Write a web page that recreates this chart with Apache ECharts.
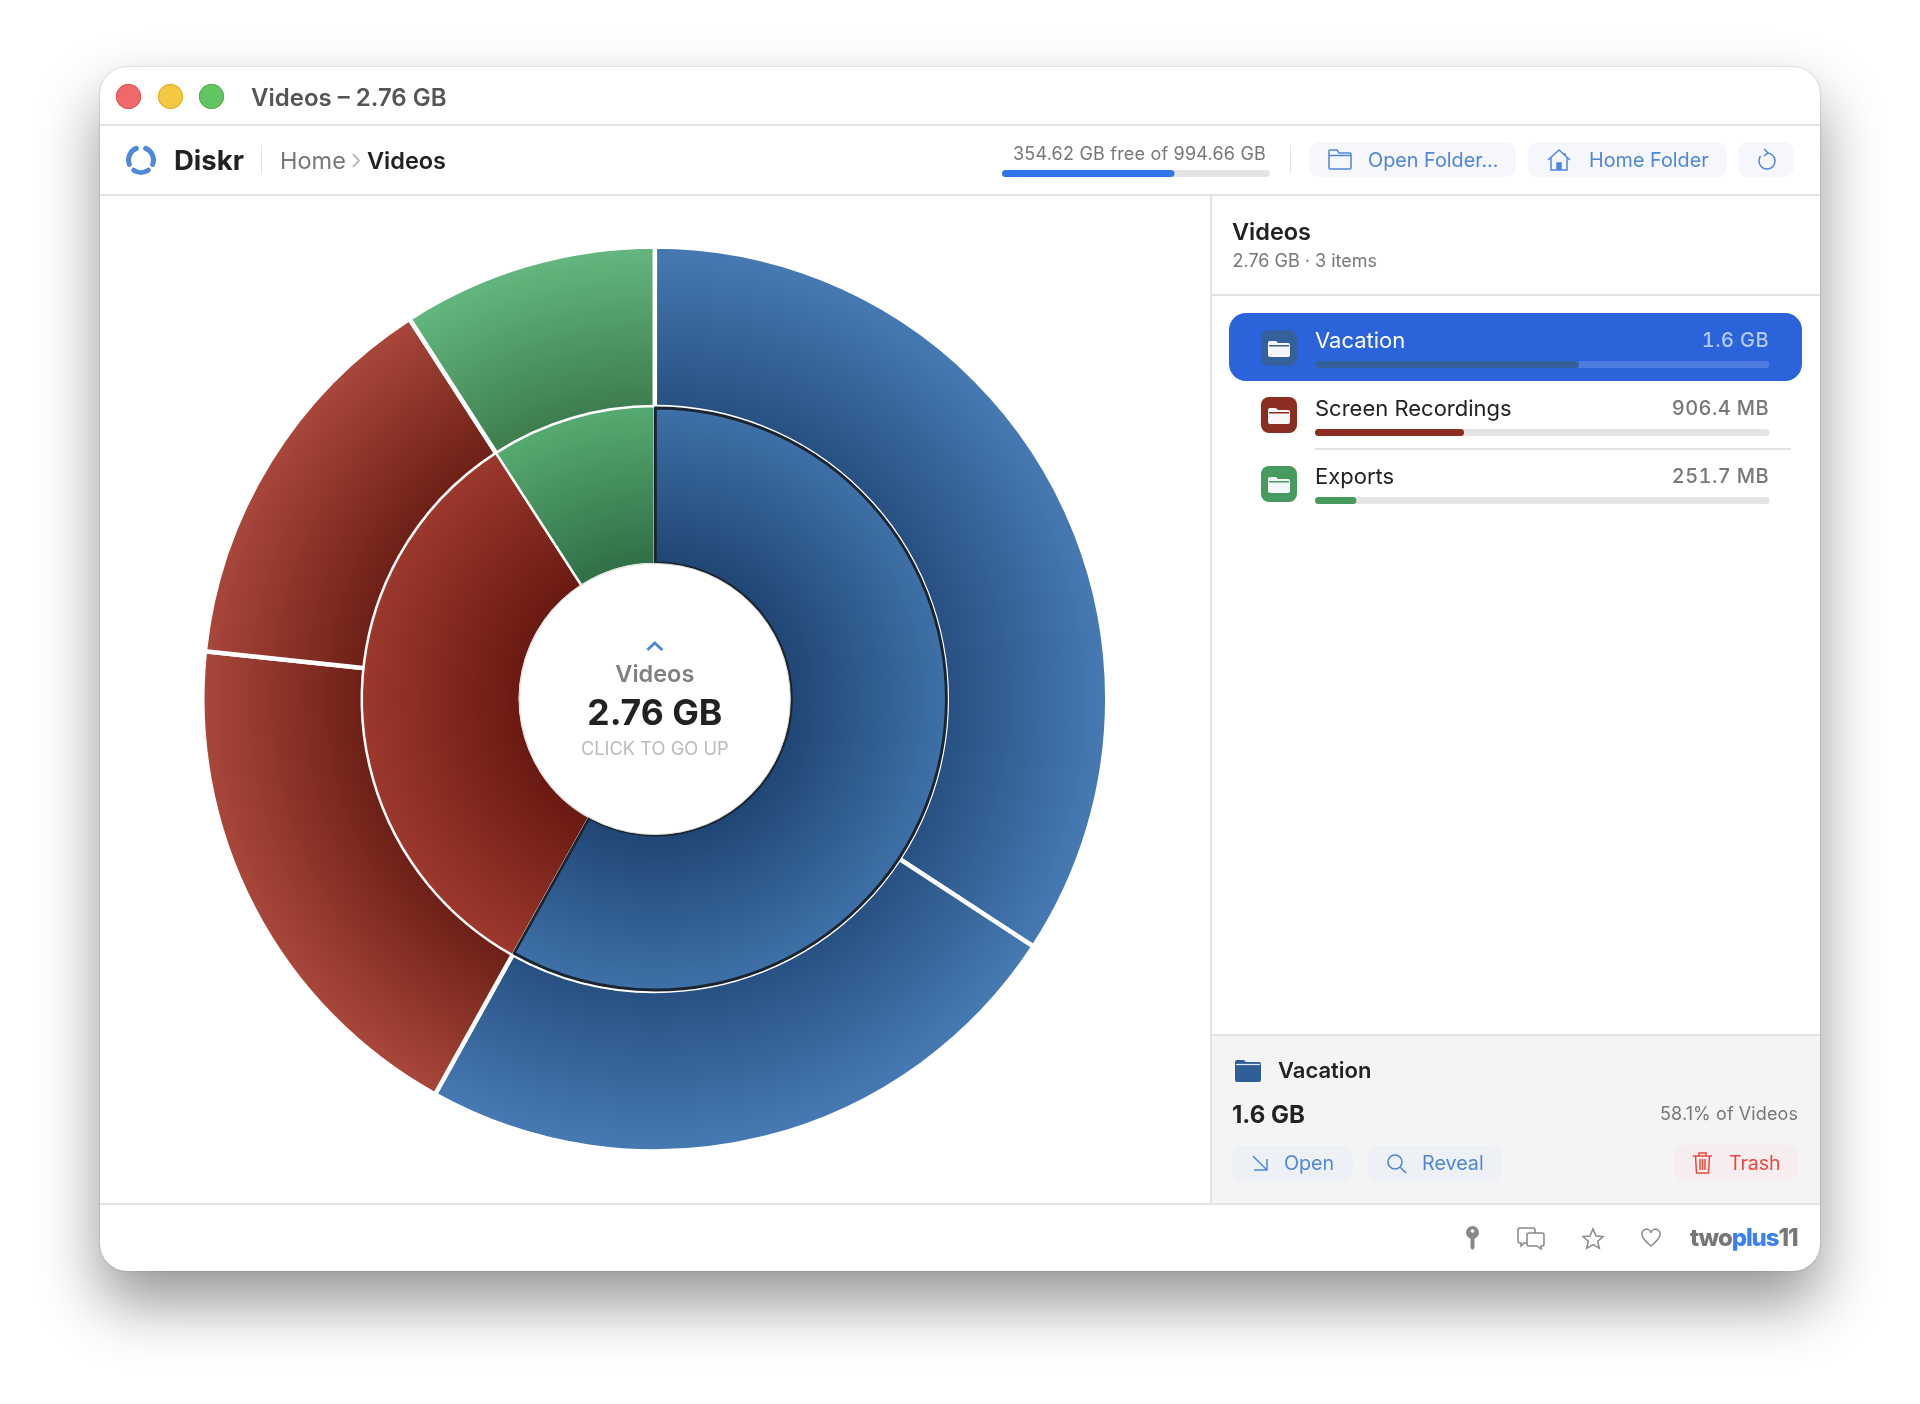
<!DOCTYPE html>
<html lang="en">

<head>
    <meta charset="UTF-8">
    <title>Diskr - Videos</title>
    <script src="https://cdn.jsdelivr.net/npm/echarts@6/dist/echarts.min.js"></script>
    <style>
        html, body { margin: 0; padding: 0; background: #fff; }
        body { width: 1920px; height: 1404px; position: relative; overflow: hidden; font-family: Inter, sans-serif; }
        #win { position: absolute; left: 100px; top: 67px; width: 1720px; height: 1204px; background: #fff; border-radius: 27px;
            box-shadow: 0 32px 62px rgba(0,0,0,.42), 0 0 2px rgba(0,0,0,.28); }
        #main { position: absolute; left: 0; top: 0; width: 1920px; height: 1404px; }
        .t { position: absolute; white-space: nowrap; line-height: 1; z-index: 5; }
        .r { position: absolute; z-index: 0; }
        svg { position: absolute; overflow: visible; z-index: 5; }
        .btn { position: absolute; border-radius: 10px; z-index: 0; }
        .line { position: absolute; background: #e3e3e3; z-index: 1; }
    </style>
</head>

<body>
    <div id="win"></div>

    <!-- title bar -->
    <div class="r" style="left:116px;top:84px;width:25px;height:25px;border-radius:50%;background:#f0696a;box-shadow:inset 0 0 0 1px #e0504f"></div>
    <div class="r" style="left:157.5px;top:84px;width:25px;height:25px;border-radius:50%;background:#f5c842;box-shadow:inset 0 0 0 1px #e0ad2a"></div>
    <div class="r" style="left:199px;top:84px;width:25px;height:25px;border-radius:50%;background:#62c462;box-shadow:inset 0 0 0 1px #4cae4c"></div>
    <div class="t" style="left:251px;top:86px;font-size:24px;font-weight:600;color:#555">Videos – 2.76 GB</div>
    <div class="line" style="left:100px;top:124px;width:1720px;height:2px"></div>

    <!-- toolbar -->
    <svg style="left:125px;top:144px" width="32" height="32" fill="none" stroke="#4f8ad8" stroke-width="5" stroke-linecap="round">
        <path d="M20.700 4.400A12.500 12.500 0 0 1 27.700 20.300"/><path d="M23.200 26.200A12.500 12.500 0 0 1 8.800 26.200"/><path d="M4.300 20.300A12.500 12.500 0 0 1 11.300 4.400"/>
    </svg>
    <div class="t" style="left:174px;top:147px;font-size:27.500px;font-weight:700;color:#222">Diskr</div>
    <div class="line" style="left:261px;top:145px;width:1px;height:29px"></div>
    <div class="t" style="left:280px;top:149px;font-size:23.500px;color:#777">Home</div>
    <svg style="left:352px;top:153px" width="9" height="15" fill="none" stroke="#aaa" stroke-width="1.5"><path d="M1 1l6 6.500-6 6.500"/></svg>
    <div class="t" style="left:367px;top:149px;font-size:23.500px;font-weight:600;color:#222">Videos</div>
    <div class="t" style="left:1013px;top:145px;font-size:18px;letter-spacing:.2px;color:#777">354.62 GB free of 994.66 GB</div>
    <div class="line" style="left:1290px;top:145px;width:1px;height:28px"></div>

    <div class="btn" style="left:1309px;top:142px;width:207px;height:35px;background:#f5f7fc"></div>
    <svg style="left:1328px;top:149px" width="24" height="21" fill="none" stroke="#4f86d6" stroke-width="1.5"><path d="M2 1h7l2 3h11a1 1 0 0 1 1 1v14a1 1 0 0 1-1 1H2a1 1 0 0 1-1-1V2a1 1 0 0 1 1-1z"/><path d="M1 6.500h22"/></svg>
    <div class="t" style="left:1368px;top:150.500px;font-size:19.800px;color:#4f86d6">Open Folder...</div>
    <div class="btn" style="left:1528px;top:142px;width:199px;height:35px;background:#f5f7fc"></div>
    <svg style="left:1547px;top:148px" width="24" height="24" fill="none" stroke="#4f86d6" stroke-width="1.5"><path d="M1 12L12 2l11 10"/><path d="M4 10v12h16V10"/><path d="M10 22v-7h4v7" fill="#4f86d6"/><path d="M18 5v3"/></svg>
    <div class="t" style="left:1589px;top:150.500px;font-size:19.800px;color:#4f86d6">Home Folder</div>
    <div class="btn" style="left:1738px;top:142px;width:56px;height:35px;background:#f5f7fc"></div>
    <svg style="left:1757px;top:149px" width="18" height="22" fill="none" stroke="#4f86d6" stroke-width="1.5"><path d="M10 4a8 8 0 1 1-8 8c0-2 .5-3.500 1.500-5"/><path d="M7 0l4 4-4 3"/></svg>
    <div class="line" style="left:100px;top:194px;width:1720px;height:2px"></div>

    <!-- right panel -->
    <div class="line" style="left:1210px;top:194px;width:2px;height:1010px"></div>
    <div class="t" style="left:1232px;top:220px;font-size:23.500px;font-weight:600;color:#222">Videos</div>
    <div class="t" style="left:1232.500px;top:252px;font-size:18px;color:#777">2.76 GB · 3 items</div>
    <div class="line" style="left:1212px;top:294px;width:608px;height:2px"></div>
    <div class="r" style="left:1229px;top:313px;width:573px;height:68px;border-radius:17px;background:#2a63da"></div>
    <div id="rows"></div>
    <div class="line" style="left:1315px;top:448px;width:476px;height:2px"></div>

    <!-- detail panel -->
    <div class="r" style="left:1212px;top:1034px;width:608px;height:169px;background:#f4f4f4"></div>
    <div class="line" style="left:1212px;top:1034px;width:608px;height:2px"></div>
    <svg style="left:1235px;top:1060px" width="26" height="22"><path d="M2 0h7l2 2h13a2 2 0 0 1 2 2v16a2 2 0 0 1-2 2H2a2 2 0 0 1-2-2V2a2 2 0 0 1 2-2z" fill="#305f97"/><path d="M1 4.500h24" stroke="#dfe6ef" stroke-width="1.2"/></svg>
    <div class="t" style="left:1278px;top:1059px;font-size:22px;font-weight:600;color:#222">Vacation</div>
    <div class="t" style="left:1232px;top:1103px;font-size:24px;font-weight:700;color:#222">1.6 GB</div>
    <div class="t" style="right:122px;top:1105px;font-size:18px;letter-spacing:.1px;color:#777">58.1% of Videos</div>

    <div class="btn" style="left:1232px;top:1146px;width:121px;height:35px;background:#edf1f5"></div>
    <svg style="left:1252px;top:1155px" width="17" height="17" fill="none" stroke="#4f86d6" stroke-width="1.5"><path d="M1 1l14 14"/><path d="M15 4v11H2"/></svg>
    <div class="t" style="left:1284px;top:1154px;font-size:19.700px;color:#4f86d6">Open</div>
    <div class="btn" style="left:1368px;top:1146px;width:134px;height:35px;background:#edf1f5"></div>
    <svg style="left:1387px;top:1154px" width="20" height="20" fill="none" stroke="#4f86d6" stroke-width="1.6"><circle cx="8" cy="8" r="7"/><path d="M13 13l6 6"/></svg>
    <div class="t" style="left:1422px;top:1154px;font-size:19.700px;color:#4f86d6">Reveal</div>
    <div class="btn" style="left:1674px;top:1145px;width:124px;height:36px;background:#f6eeee"></div>
    <svg style="left:1693px;top:1152px" width="19" height="22" fill="none" stroke="#e8483f" stroke-width="1.5"><path d="M0 4h19M6 4V1h7v3M2.500 4l1 17h12l1-17M7 7v11M9.500 7v11M12 7v11"/></svg>
    <div class="t" style="left:1729px;top:1154px;font-size:19.500px;color:#e8483f">Trash</div>
    <div class="line" style="left:100px;top:1203px;width:1720px;height:2px"></div>

    <!-- footer -->
    <svg style="left:1465px;top:1226px" width="15" height="24"><circle cx="7.500" cy="6.500" r="6.500" fill="#888"/><circle cx="7.500" cy="5" r="1.800" fill="#fff"/><path d="M5.500 11h4v11l-2 2-2-2z" fill="#888"/></svg>
    <svg style="left:1517px;top:1227px" width="28" height="23" fill="none" stroke="#888" stroke-width="1.5"><path d="M14 16H7l-3 3v-3H3a2 2 0 0 1-2-2V3a2 2 0 0 1 2-2h13a2 2 0 0 1 2 2v3"/><path d="M12 6h13a2 2 0 0 1 2 2v9a2 2 0 0 1-2 2h-1v3l-4-3h-8a2 2 0 0 1-2-2V8a2 2 0 0 1 2-2z" fill="#fff"/></svg>
    <svg style="left:1582px;top:1228px" width="22" height="21" fill="none" stroke="#888" stroke-width="1.5"><path d="M11 1l3 7 7 .6-5.300 4.700 1.600 7L11 16.600l-6.300 3.700 1.600-7L1 8.600 8 8z"/></svg>
    <svg style="left:1641px;top:1229px" width="20" height="18" fill="none" stroke="#888" stroke-width="1.5"><path d="M10 17C4 12 1 9 1 5.500A4.500 4.500 0 0 1 10 4a4.500 4.500 0 0 1 9 1.500C19 9 16 12 10 17z"/></svg>
    <div class="t" style="left:1690px;top:1226px;font-size:24px;font-weight:800;letter-spacing:-1.100px;color:#777">two<span style="color:#3b7ff0">plus</span>11</div>

    <div id="main"></div>

    <script type="text/javascript">
        // ring values, GB
        var innerNames = ['Vacation', 'Screen Recordings', 'Exports'];
        var innerValues = [1.604, 0.906, 0.252];
        var outerValues = [0.945, 0.659, 0.514, 0.392, 0.252];
        var outerGroups = [0, 0, 1, 1, 2];
        // list rows
        var rowSizes = ['1.6 GB', '906.4 MB', '251.7 MB'];
        var rowShares = [58.1, 32.8, 9.1];
        var rowFull = [100, 100, 100];
        // disk usage, GB
        var diskTotal = 994.66;
        var diskUsed = [640.04];

        var rowFill = ['#34619b', '#8c2d22', '#469a5e'];
        var rowTrack = ['#4c7ce0', '#e4e4e4', '#e4e4e4'];
        var innerDark = ['#204674', '#6a1a12', '#316f47'];
        var innerLight = ['#3e71a8', '#9c382d', '#56aa71'];
        var outerDark = ['#285182', '#6e2017', '#3e7d50'];
        var outerLight = ['#4679b3', '#a8463a', '#62b67e'];

        var cx = 654.8, cy = 699;

        function ringColor(dark, light, from, to) {
            return new echarts.graphic.RadialGradient(cx, cy, to, [
                { offset: from / to, color: dark },
                { offset: 1, color: light }
            ], true);
        }

        // list rows text and icons
        var html = '';
        var tops = [330, 397, 466];
        var nameTops = [329, 397, 465];
        for (var i = 0; i < innerNames.length; i++) {
            var c = rowFill[i];
            html += '<svg style="left:1261px;top:' + tops[i] + 'px" width="36" height="36"><rect width="36" height="36" rx="8" fill="' + c + '"/>' +
                '<path d="M9 11h6l2 2h10a2 2 0 0 1 2 2v10a2 2 0 0 1-2 2H9a2 2 0 0 1-2-2V13a2 2 0 0 1 2-2z" fill="#f4f6f8"/>' +
                '<rect x="8" y="15" width="20" height="1.500" fill="' + c + '"/></svg>';
            html += '<div class="t" style="left:1315px;top:' + nameTops[i] + 'px;font-size:22px;color:' + (i == 0 ? '#fff' : '#222') + '">' + innerNames[i] + '</div>';
            html += '<div class="t" style="right:151px;top:' + (nameTops[i] + 1) + 'px;font-size:20px;font-weight:500;letter-spacing:.4px;font-variant-numeric:tabular-nums;color:' + (i == 0 ? '#b5c9f3' : '#777') + '">' + rowSizes[i] + '</div>';
        }
        document.getElementById('rows').innerHTML = html;

        var myChart = echarts.init(document.getElementById('main'));

        var option = {
            backgroundColor: 'transparent',
            animation: false,
            grid: [
                { left: 1002, top: 170, width: 268, height: 7 },
                { left: 1315, top: 330.5, width: 454.5, height: 204 }
            ],
            xAxis: [
                { gridIndex: 0, type: 'value', min: 0, max: diskTotal, show: false },
                { gridIndex: 1, type: 'value', min: 0, max: 100, show: false }
            ],
            yAxis: [
                { gridIndex: 0, type: 'category', data: ['Disk'], show: false },
                { gridIndex: 1, type: 'category', data: innerNames, inverse: true, show: false }
            ],
            series: [
                // outer ring
                {
                    type: 'pie', z: 1, silent: true, center: [cx, cy], radius: [284, 452.5], startAngle: 90, label: { show: false },
                    data: outerValues.map(function (v, i) {
                        var g = outerGroups[i];
                        return { value: v, itemStyle: { color: ringColor(outerDark[g], outerLight[g], 294, 450), borderColor: '#fff', borderWidth: 4.5 } };
                    })
                },
                // inner ring
                {
                    type: 'pie', z: 2, silent: true, center: [cx, cy], radius: [135, 293], startAngle: 90, label: { show: false },
                    data: innerValues.map(function (v, i) {
                        return {
                            name: innerNames[i], value: v, itemStyle: {
                                color: ringColor(innerDark[i], innerLight[i], 136, 293),
                                borderColor: '#fff', borderWidth: 2.5
                            }
                        };
                    })
                },
                // dark outline of the selected slice
                {
                    type: 'pie', z: 3, silent: true, center: [cx + 0.6, cy], radius: [136, 291], startAngle: 90, label: { show: false },
                    data: innerValues.map(function (v, i) {
                        return { value: v, itemStyle: { color: 'transparent', borderColor: i == 0 ? '#1b2431' : 'transparent', borderWidth: i == 0 ? 2.9 : 0 } };
                    })
                },
                // disk bar
                {
                    type: 'bar', xAxisIndex: 0, yAxisIndex: 0, barWidth: 7, barGap: '-100%', silent: true,
                    data: [diskTotal], itemStyle: { color: '#e4e4e4', borderRadius: 3.5 }
                },
                {
                    type: 'bar', xAxisIndex: 0, yAxisIndex: 0, barWidth: 7, barGap: '-100%', silent: true,
                    data: diskUsed, itemStyle: { color: '#2f76ee', borderRadius: 3.5 }
                },
                // list bars
                {
                    type: 'bar', xAxisIndex: 1, yAxisIndex: 1, barWidth: 7, barGap: '-100%', silent: true,
                    data: rowFull.map(function (v, i) { return { value: v, itemStyle: { color: rowTrack[i], borderRadius: 3.5 } }; })
                },
                {
                    type: 'bar', xAxisIndex: 1, yAxisIndex: 1, barWidth: 7, barGap: '-100%', silent: true,
                    data: rowShares.map(function (v, i) { return { value: v, itemStyle: { color: rowFill[i], borderRadius: 3.5 } }; })
                }
            ],
            graphic: {
                elements: [
                    { type: 'circle', z: 100, silent: true, shape: { cx: cx, cy: cy, r: 135.5 }, style: { fill: '#fff', stroke: '#dcdcdc', lineWidth: 1 } },
                    { type: 'polyline', z: 101, silent: true, shape: { points: [[cx - 7.5, 650], [cx, 643], [cx + 7.5, 650]] }, style: { fill: 'none', stroke: '#4f86d6', lineWidth: 3 } },
                    { type: 'text', z: 101, silent: true, style: { x: cx, y: 675, text: 'Videos', align: 'center', verticalAlign: 'middle', font: '600 23.5px Inter', fill: '#808080' } },
                    { type: 'text', z: 101, silent: true, style: { x: cx, y: 714.5, text: '2.76 GB', align: 'center', verticalAlign: 'middle', font: '700 35.5px Inter', fill: '#222' } },
                    { type: 'text', z: 101, silent: true, style: { x: cx, y: 750, text: 'CLICK TO GO UP', align: 'center', verticalAlign: 'middle', font: '400 18.3px Inter', fill: '#bbb' } }
                ]
            }
        };

        myChart.setOption(option);
    </script>
</body>

</html>
